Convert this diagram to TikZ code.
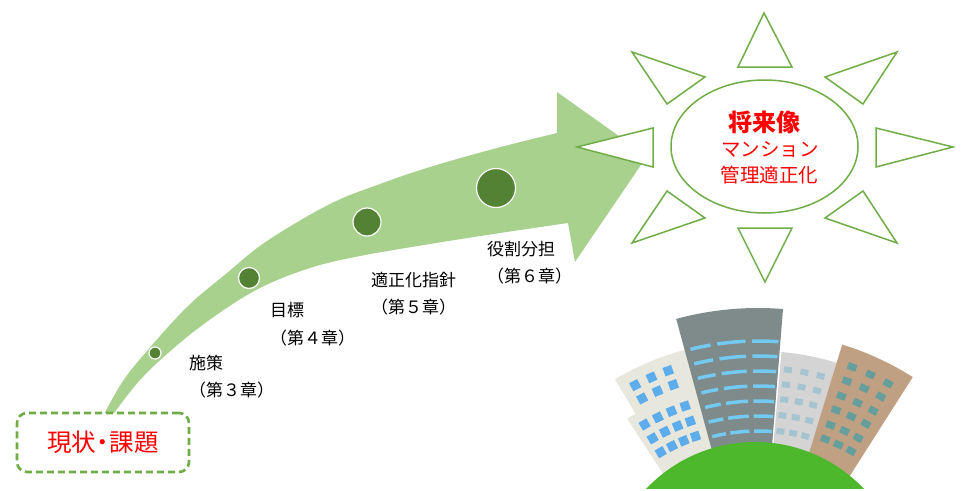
\documentclass[tikz,border=0pt]{standalone}
\usepackage{fontspec}
\newfontfamily\jp{Noto Sans CJK JP}
\usetikzlibrary{shapes.geometric}

\definecolor{shaftgreen}{HTML}{A9D18E}
\definecolor{stepgreen}{HTML}{548235}
\definecolor{linegreen}{HTML}{70AD47}
\definecolor{goalred}{HTML}{FF0000}
\definecolor{towergray}{HTML}{7F8A8A}
\definecolor{stripeblue}{HTML}{73C9F0}
\definecolor{cream}{HTML}{E8E7DE}
\definecolor{creamwin}{HTML}{5DADEC}
\definecolor{palegray}{HTML}{D4D4D4}
\definecolor{palewin}{HTML}{A6C4CF}
\definecolor{tan}{HTML}{BFA083}
\definecolor{tanwin}{HTML}{669E9B}
\definecolor{hill}{HTML}{4DB82B}

% annular sector around the current origin: colour, angle1, angle2, inner r, outer r
\newcommand\bldsector[5]{%
  \fill[#1] (#2:#4) arc[start angle=#2, end angle=#3, radius=#4]
    -- (#3:#5) arc[start angle=#3, end angle=#2, radius=#5] -- cycle;}

\tikzset{
  stepdot/.style={circle, fill=stepgreen, draw=white, line width=1.2pt, inner sep=0pt},
  steplabel/.style={anchor=west, align=left, inner sep=0pt,
    font=\jp\fontsize{17}{27.5}\selectfont},
  ray/.style={draw=linegreen, fill=white, line width=1.5pt, line join=miter},
  stripe/.style={draw=stripeblue, line width=3.5pt},
}

\begin{document}
\begin{tikzpicture}[x=1pt, y=-1pt, font=\jp]
\fill[white] (0,0) rectangle (963,490);
\useasboundingbox (0,0) rectangle (963,490);

% curved progress arrow
\fill[shaftgreen]
  plot[smooth, tension=0.6] coordinates {(103,416) (123,381) (147,351) (187,307)
    (227,273) (267,241) (330,204) (380,184) (430,167) (497,148) (557,133)}
  -- (557,92) -- (647,156) -- (575,262)
  -- plot[smooth, tension=0.6] coordinates {(568,223) (500,233) (430,244) (360,256)
    (310,268) (260,288) (215,316) (175,347) (140,380) (112,416)}
  -- cycle;

% milestones on the arrow
\node[stepdot, minimum size=12pt] (m3) at (155,353) {};
\node[stepdot, minimum size=21pt] (m4) at (249,278) {};
\node[stepdot, minimum size=28pt] (m5) at (367,222) {};
\node[stepdot, minimum size=39pt] (m6) at (496,188) {};

\node[steplabel] (l3) at (189,376.5) {施策\\（第３章）};
\node[steplabel] (l4) at (270,324) {目標\\（第４章）};
\node[steplabel] (l5) at (371,293.5) {適正化指針\\（第５章）};
\node[steplabel] (l6) at (487,262.5) {役割分担\\（第６章）};

% starting point
\node[draw=linegreen, fill=white, line width=2.6pt, dash pattern=on 7pt off 4pt,
  rounded corners=10pt, minimum width=172pt, minimum height=59pt, inner sep=0pt,
  text=goalred, font=\jp\fontsize{24.5}{26}\selectfont] (now) at (103,442.5)
  {現状\hspace{-6pt}・\hspace{-5pt}課題};

% sun rays
\draw[ray] (764,13) -- (738,67) -- (792,67) -- cycle;
\draw[ray] (765,282) -- (738,228) -- (792,228) -- cycle;
\draw[ray] (577,147) -- (653,128) -- (653,167) -- cycle;
\draw[ray] (953,147) -- (876,128) -- (876,167) -- cycle;
\draw[ray] (632,52) -- (705,77) -- (667,104) -- cycle;
\draw[ray] (897,52) -- (825,77) -- (863,104) -- cycle;
\draw[ray] (667,191) -- (705,218) -- (632,243) -- cycle;
\draw[ray] (863,191) -- (825,218) -- (897,243) -- cycle;

% goal
\node[ellipse, draw=linegreen, fill=white, line width=1.5pt, minimum width=187pt,
  minimum height=133pt, inner sep=0pt] (goal) at (764.5,146.5) {};
\node[text=goalred, inner sep=0pt, font=\jp\bfseries\fontsize{24}{26}\selectfont]
  (g1) at (764,122) {将来像};
\node[text=goalred, inner sep=0pt, font=\jp\fontsize{19.5}{22}\selectfont]
  (g2) at (770,150) {マンション};
\node[text=goalred, inner sep=0pt, font=\jp\fontsize{19.5}{22}\selectfont]
  (g3) at (769.5,175) {管理適正化};

% town on the hill
\begin{scope}
  \clip (600,300) rectangle (963,488);
  \begin{scope}[shift={(758,620)}]
    % cream block, two stacked parts
    \bldsector{cream}{-123}{-104}{140}{240}
    \bldsector{cream}{-120.7}{-104}{230}{280}
    \foreach \r in {265,250}
      \foreach \p in {-27.6,-23.7,-19.8}
        \fill[creamwin, shift={({\p-90}:\r)}, rotate={-\p}] (-4.5,-4.5) rectangle (4.5,4.5);
    \foreach \r in {226,210,194}
      \foreach \p in {-30.1,-26.3,-22.5,-18.8}
        \fill[creamwin, shift={({\p-90}:\r)}, rotate={-\p}] (-4.5,-4.5) rectangle (4.5,4.5);
    % tall gray tower
    \bldsector{towergray}{-105.2}{-85.4}{140}{312}
    \foreach \r in {279,264,...,189} {
      \draw[stripe] (-104:\r) arc[start angle=-104, end angle=-99.8, radius=\r];
      \draw[stripe] (-98.4:\r) arc[start angle=-98.4, end angle=-92.6, radius=\r];
      \draw[stripe] (-91.2:\r) arc[start angle=-91.2, end angle=-85.8, radius=\r];
    }
    % light gray block
    \bldsector{palegray}{-85}{-72.5}{140}{269}
    \foreach \r in {252,237,222,206,190}
      \foreach \p in {6.8,10.6,14.4}
        \fill[palewin, shift={({\p-90}:\r)}, rotate={-\p}] (-4,-3) rectangle (4,3);
    % brown block
    \bldsector{tan}{-73}{-57.5}{140}{288}
    \foreach \r in {270,255,239,224,208,193}
      \foreach \p in {20.4,24.6,28.8}
        \fill[tanwin, shift={({\p-90}:\r)}, rotate={-\p}] (-4.5,-3.5) rectangle (4.5,3.5);
  \end{scope}
  \fill[hill] (755,592) circle (150);
\end{scope}
\end{tikzpicture}
\end{document}
